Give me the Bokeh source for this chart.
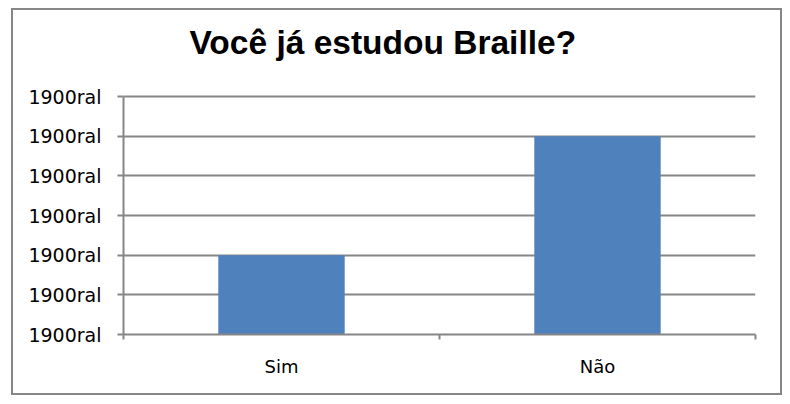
from bokeh.plotting import figure
from bokeh.models import FixedTicker, Label
from bokeh.embed import file_html
from bokeh.resources import INLINE

categories = ["Sim", "Não"]
values = [2, 5]
y_ticks = [0, 1, 2, 3, 4, 5, 6]
y_tick_labels = ["1900ral"] * 7
title_text = "Você já estudou Braille?"

GRAY = "#868686"
BLUE = "#4F81BD"

n = len(categories)
x_centers = [i + 0.5 for i in range(n)]

# plot area extends up to the top edge so the title label sits inside it;
# axis bounds and fixed ticks keep axis/grid to 0..6
axis_px = 238
frame_px = 324
y_max = y_ticks[-1] * frame_px / axis_px

p = figure(width=767, height=383, output_backend="svg", toolbar_location=None,
           x_range=(0, n), y_range=(0, y_max),
           min_border_left=110, min_border_right=25, min_border_top=0, min_border_bottom=59,
           frame_width=632, frame_height=frame_px)
p.styles = {"border": "2px solid " + GRAY, "margin-left": "11px", "margin-top": "8px"}
p.outline_line_color = None
p.background_fill_color = "white"
p.border_fill_color = "white"

p.vbar(x=x_centers, top=values, bottom=0, width=0.4, fill_color=BLUE, line_color=None)

title = Label(x=66, y=292, x_units="screen", y_units="screen", text=title_text,
              text_font="Liberation Sans", text_font_size="33.5px", text_font_style="bold",
              text_color="black", text_baseline="alphabetic", text_align="left")
p.add_layout(title)

# y axis
p.yaxis.ticker = FixedTicker(ticks=y_ticks)
p.yaxis.bounds = (y_ticks[0], y_ticks[-1])
p.yaxis.major_label_overrides = {v: l for v, l in zip(y_ticks, y_tick_labels)}
p.yaxis.axis_line_color = GRAY
p.yaxis.axis_line_width = 2
p.yaxis.major_tick_line_color = GRAY
p.yaxis.major_tick_line_width = 2
p.yaxis.major_tick_out = 6
p.yaxis.major_tick_in = 0
p.yaxis.minor_tick_line_color = None
p.yaxis.major_label_standoff = 16
p.yaxis.major_label_text_font = "DejaVu Sans"
p.yaxis.major_label_text_font_size = "19px"
p.yaxis.major_label_text_color = "black"

# x axis
p.xaxis.ticker = FixedTicker(ticks=x_centers, minor_ticks=list(range(n + 1)))
p.xaxis.major_label_overrides = {x: c for x, c in zip(x_centers, categories)}
p.xaxis.axis_line_color = GRAY
p.xaxis.axis_line_width = 2
p.xaxis.major_tick_line_color = None
p.xaxis.major_tick_out = 0
p.xaxis.major_tick_in = 0
p.xaxis.minor_tick_line_color = GRAY
p.xaxis.minor_tick_line_width = 2
p.xaxis.minor_tick_out = 5
p.xaxis.minor_tick_in = 0
p.xaxis.major_label_standoff = 16
p.xaxis.major_label_text_font = "DejaVu Sans"
p.xaxis.major_label_text_font_size = "18px"
p.xaxis.major_label_text_color = "black"

p.xgrid.grid_line_color = None
p.ygrid.grid_line_color = GRAY
p.ygrid.grid_line_width = 2

open("out.html", "w").write(file_html(p, INLINE))
